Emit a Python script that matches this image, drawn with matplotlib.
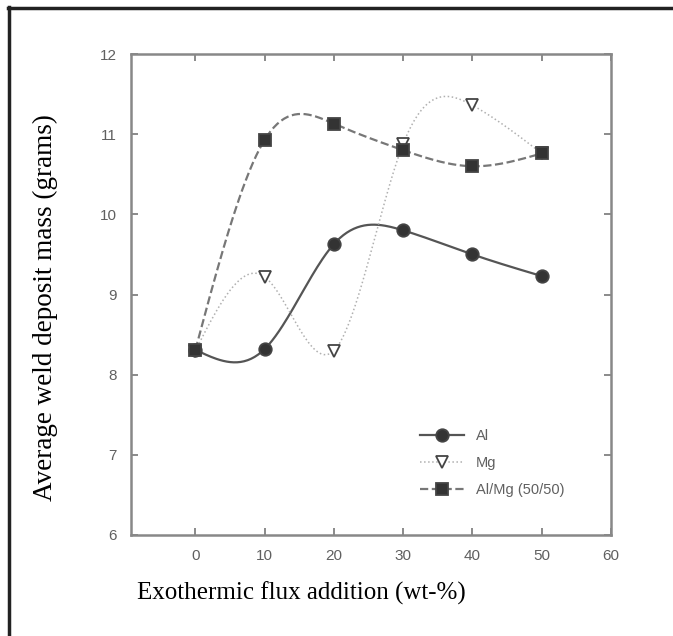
import numpy as np
import matplotlib.pyplot as plt
from matplotlib.lines import Line2D

# data
flux = [0, 10, 20, 30, 40, 50]
al = [8.31, 8.32, 9.63, 9.80, 9.50, 9.23]
mg = [8.30, 9.22, 8.30, 10.88, 11.36, 10.76]
almg = [8.31, 10.93, 11.13, 10.80, 10.60, 10.76]
labels = ['Al', 'Mg', 'Al/Mg (50/50)']


def smooth(x, y, n=200):
    # natural cubic spline, only used to draw the curve between the points
    x = np.asarray(x, float)
    y = np.asarray(y, float)
    k = len(x)
    h = np.diff(x)
    A = np.zeros((k, k))
    b = np.zeros(k)
    A[0, 0] = A[-1, -1] = 1
    for i in range(1, k - 1):
        A[i, i - 1] = h[i - 1]
        A[i, i] = 2 * (h[i - 1] + h[i])
        A[i, i + 1] = h[i]
        b[i] = 6 * ((y[i + 1] - y[i]) / h[i] - (y[i] - y[i - 1]) / h[i - 1])
    M = np.linalg.solve(A, b)
    xs = np.linspace(x[0], x[-1], n)
    j = np.clip(np.searchsorted(x, xs) - 1, 0, k - 2)
    t0 = x[j + 1] - xs
    t1 = xs - x[j]
    ys = (M[j] * t0 ** 3 + M[j + 1] * t1 ** 3) / (6 * h[j]) \
        + (y[j] / h[j] - M[j] * h[j] / 6) * t0 \
        + (y[j + 1] / h[j] - M[j + 1] * h[j] / 6) * t1
    return xs, ys


plt.rcParams['font.family'] = ['Liberation Sans', 'DejaVu Sans']
fig = plt.figure(figsize=(6.73, 6.36), dpi=100)
ax = fig.add_axes([131 / 673, 1 - 535 / 636, 480 / 673, 481 / 636])

styles = [
    dict(data=al, ls='-', marker='o', lc='#555555', mfc='#333333', lw=1.6),
    dict(data=mg, ls=':', marker='v', lc='#b0b0b0', mfc='white', lw=1.1),
    dict(data=almg, ls='--', marker='s', lc='#777777', mfc='#333333', lw=1.6),
]
handles = []
for s, lab in zip(styles, labels):
    xs, ys = smooth(flux, s['data'])
    ax.plot(xs, ys, ls=s['ls'], color=s['lc'], lw=s['lw'], zorder=2)
    ax.plot(flux, s['data'], ls='none', marker=s['marker'], ms=9,
            mfc=s['mfc'], mec='#444444', mew=1.3, zorder=3)
    handles.append(Line2D([], [], ls=s['ls'], color=s['lc'], lw=s['lw'],
                          marker=s['marker'], ms=9, mfc=s['mfc'],
                          mec='#444444', mew=1.3))

ax.set_xlim(-9.3, 60)
ax.set_ylim(6, 12)
ax.set_xticks([0, 10, 20, 30, 40, 50, 60])
ax.set_yticks([6, 7, 8, 9, 10, 11, 12])
ax.tick_params(direction='in', top=True, right=True, length=5, width=1.2,
               color='#777777', labelcolor='#606060', labelsize=11, pad=10)
for sp in ax.spines.values():
    sp.set_color('#888888')
    sp.set_linewidth(1.8)

ax.legend(handles, labels, loc='lower right', bbox_to_anchor=(0.93, 0.052),
          frameon=False, fontsize=10.5, handlelength=3, labelcolor='#606060',
          labelspacing=0.9)

fig.text(137 / 673, 1 - 593 / 636, 'Exothermic flux addition (wt-%)',
         family='Liberation Serif', fontsize=18, va='center', ha='left')
fig.text(45 / 673, 1 - 308 / 636, 'Average weld deposit mass (grams)',
         family='Liberation Serif', fontsize=19.5, va='center', ha='center',
         rotation=90)

# frame lines at top and left of the figure
fig.add_artist(Line2D([8.5 / 673, 8.5 / 673], [0, 1 - 7 / 636], color='#222222',
                      lw=2.5, transform=fig.transFigure))
fig.add_artist(Line2D([7.5 / 673, 1], [1 - 7.5 / 636, 1 - 7.5 / 636],
                      color='#222222', lw=2.5, transform=fig.transFigure))

fig.savefig('out.png', dpi=100)
